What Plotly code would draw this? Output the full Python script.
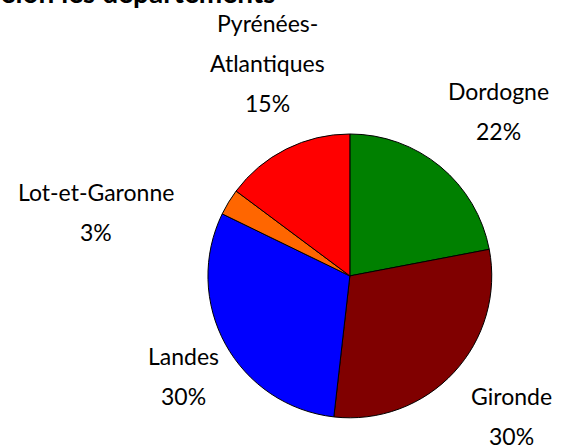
import plotly.graph_objects as go
import numpy as np

# données
departements = ["Dordogne", "Gironde", "Landes", "Lot-et-Garonne", "Pyrénées-Atlantiques"]
label_lines = [["Dordogne"], ["Gironde"], ["Landes"], ["Lot-et-Garonne"], ["Pyrénées-", "Atlantiques"]]
parts = [22.0, 29.8, 30.4, 3.0, 14.8]
colors = ["#008000", "#800000", "#0000FF", "#FF6600", "#FF0000"]
title = "Répartition selon les départements"

W, H = 562, 445
dom_x = [0.370, 0.875]
dom_y = [0.061, 0.699]
FONT = "Lato"
fs = 23
LH = 40     # interligne des étiquettes
gap = 20    # distance étiquette / bord du camembert
# décalages manuels des étiquettes (px), comme dans le tableur d'origine
nudge = {"Gironde": (3, -10), "Landes": (10, -18), "Lot-et-Garonne": (-35, 60),
         "Pyrénées-Atlantiques": (-10, -8)}

fig = go.Figure(go.Pie(
    labels=departements,
    values=parts,
    sort=False,
    direction="clockwise",
    rotation=0,
    marker=dict(colors=colors, line=dict(color="black", width=1)),
    textinfo="none",
    hoverinfo="label+percent",
    domain=dict(x=dom_x, y=dom_y),
    showlegend=False,
))

# géométrie du camembert en pixels
cx = W * (dom_x[0] + dom_x[1]) / 2
cy = H * (1 - (dom_y[0] + dom_y[1]) / 2)
r = min(W * (dom_x[1] - dom_x[0]), H * (dom_y[1] - dom_y[0])) / 2

total = sum(parts)
cum = 0
annotations = []
for name, lines, v in zip(departements, label_lines, parts):
    theta = 2 * np.pi * (cum + v / 2) / total
    cum += v
    s, c = np.sin(theta), np.cos(theta)
    px = cx + (r + gap) * s
    py = cy - (r + gap) * c
    txt = lines + [f"{round(100 * v / total)}%"]
    w = 0.52 * 22 * max(len(t) for t in txt)
    if s > 0.5:
        bx = px + w / 2
    elif s < -0.5:
        bx = px - w / 2
    else:
        bx = px
    block = len(txt) * LH
    if c > 0.45:
        top = py - block
    elif c < -0.45:
        top = py
    else:
        top = py - block / 2
    dx, dy = nudge.get(name, (0, 0))
    for j, t in enumerate(txt):
        yc = top + (j + 0.5) * LH + dy
        annotations.append(dict(
            text=t, x=(bx + dx) / W, y=1 - yc / H, xref="paper", yref="paper",
            xanchor="center", yanchor="middle", showarrow=False, borderpad=0,
            font=dict(family=FONT, size=fs, color="black"),
        ))

annotations.append(dict(
    text="<b>" + title + "</b>", x=277 / W, y=1 - 10 / H, xref="paper", yref="paper",
    xanchor="right", yanchor="bottom", showarrow=False, borderpad=0,
    font=dict(family=FONT, size=28, color="black"),
))

fig.update_layout(
    width=W, height=H,
    margin=dict(l=0, r=0, t=0, b=0),
    paper_bgcolor="white",
    plot_bgcolor="white",
    annotations=annotations,
)

fig.write_html("out.html", config={"displayModeBar": False},
               post_script="document.body.style.margin='0';")
